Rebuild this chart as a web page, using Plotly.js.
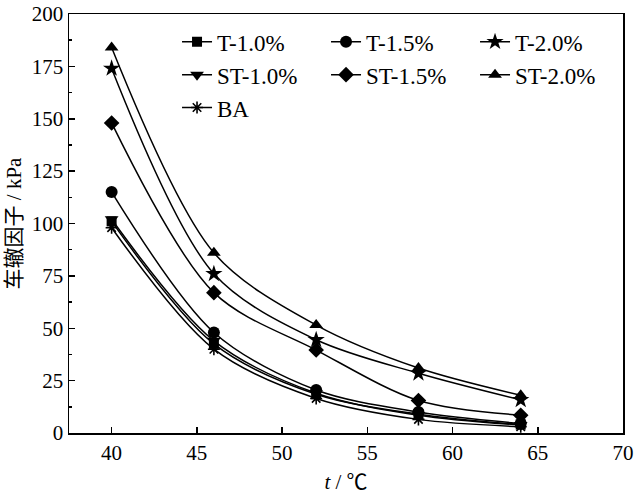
<!DOCTYPE html>
<html>
<head>
<meta charset="utf-8">
<script src="https://cdn.plot.ly/plotly-3.0.1.min.js"></script>
<style>html,body{margin:0;padding:0;background:#fff;}#chart{width:634px;height:495px;}</style>
</head>
<body>
<div id="chart"></div>
<script>
const temps = [40, 46, 52, 58, 64];
const T10 = [101, 42.5, 18.5, 9, 4];
const T15 = [115, 48, 20.5, 10, 4.5];
const T20 = [174, 76, 44.5, 28.5, 15.8];
const ST10 = [102, 44, 19, 8.5, 3.8];
const ST15 = [148, 67, 39.6, 15.5, 8.5];
const ST20 = [184, 86, 51.5, 31, 18];
const BA = [98, 40, 16.5, 6.5, 3];

const seriesNames = ['T-1.0%', 'T-1.5%', 'T-2.0%', 'ST-1.0%', 'ST-1.5%', 'ST-2.0%', 'BA'];
const seriesData = [T10, T15, T20, ST10, ST15, ST20, BA];
const symbols = ['square', 'circle', 'star', 'triangle-down', 'diamond', 'triangle-up', 'asterisk-open'];
const sizes = [10, 12, 13, 12, 12, 12, 10];

const traces = seriesNames.map((n, i) => ({
  x: temps,
  y: seriesData[i],
  name: n,
  type: 'scatter',
  mode: 'lines+markers',
  line: {color: '#000', width: 1.5, shape: 'spline', smoothing: 0.9},
  marker: {symbol: symbols[i], size: sizes[i], color: '#000', line: {color: '#000', width: symbols[i] === 'asterisk-open' ? 1.6 : 0}}
}));

const fontFam = 'Liberation Serif, Noto Sans CJK SC, serif';

const layout = {
  width: 634, height: 495,
  margin: {l: 69, r: 11, t: 14, b: 62, autoexpand: false},
  paper_bgcolor: '#fff', plot_bgcolor: '#fff',
  font: {family: fontFam, size: 21, color: '#000'},
  showlegend: true,
  legend: {
    orientation: 'h', x: 0.195, y: 0.985, xanchor: 'left', yanchor: 'top',
    entrywidth: 104, entrywidthmode: 'pixels',
    bgcolor: 'rgba(0,0,0,0)', font: {family: fontFam, size: 23, color: '#000'},
    traceorder: 'normal'
  },
  xaxis: {
    range: [37.5, 70], tickmode: 'linear', tick0: 40, dtick: 5,
    ticks: 'inside', ticklen: 6, tickwidth: 1.5, tickcolor: '#000',
    showline: true, linecolor: '#000', linewidth: 1.5, mirror: true,
    showgrid: false, zeroline: false,
    tickfont: {family: fontFam, size: 21, color: '#000'},
    title: {text: '<i>t</i> / ℃', font: {family: fontFam, size: 21, color: '#000'}, standoff: 10}
  },
  yaxis: {
    range: [0, 200], tickmode: 'linear', tick0: 0, dtick: 25,
    ticks: 'inside', ticklen: 6, tickwidth: 1.5, tickcolor: '#000',
    minor: {dtick: 12.5, ticks: 'inside', ticklen: 3, tickwidth: 1.5, tickcolor: '#000', showgrid: false},
    showline: true, linecolor: '#000', linewidth: 1.5, mirror: true,
    showgrid: false, zeroline: false,
    tickfont: {family: fontFam, size: 21, color: '#000'},
    title: {text: '车辙因子 / kPa', font: {family: fontFam, size: 21, color: '#000'}, standoff: 4}
  }
};

Plotly.newPlot('chart', traces, layout, {displayModeBar: false, staticPlot: true});
</script>
</body>
</html>
